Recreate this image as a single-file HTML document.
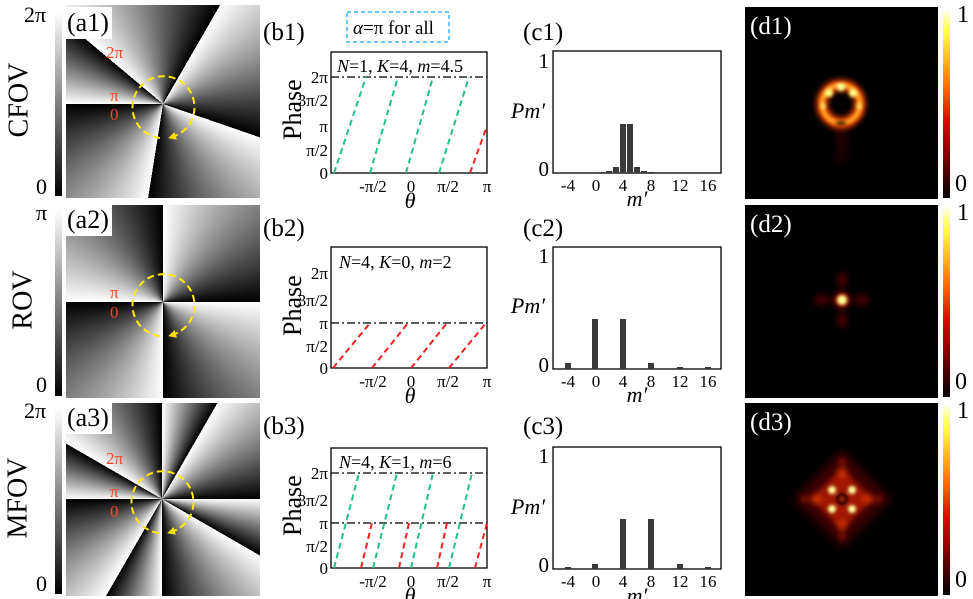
<!DOCTYPE html>
<html><head><meta charset="utf-8"><style>
body{margin:0;background:#fff;width:973px;height:599px;position:relative;overflow:hidden;font-family:"Liberation Serif",serif}
.a{position:absolute;left:66px;width:194px;height:193px}
.cb{position:absolute;left:55px;width:7px;background:linear-gradient(#fff,#000)}
.hb{position:absolute;left:943px;width:7px;background:linear-gradient(#fffff0,#ffff40 12%,#ff9000 35%,#e00000 60%,#500000 85%,#000)}
.lab{position:absolute;background:#fff;font-size:26px;line-height:32px;padding:0 3px}
.t{position:absolute;font-size:22px}
</style></head><body>
<div class="a" style="top:5px;background:conic-gradient(from 270deg at 97px 99px,#fff 0deg,#000 40deg,#fff 40deg,#000 120deg,#fff 120deg,#000 199deg,#fff 199deg,#000 279deg,#fff 279deg,#000 360deg)"></div>
<div class="a" style="top:205px;background:conic-gradient(from 0deg at 97px 97px,#fff 0deg,#000 90deg,#fff 90deg,#000 180deg,#fff 180deg,#000 270deg,#fff 270deg,#000 360deg)"></div>
<div class="a" style="top:403px;background:conic-gradient(from 0deg at 96px 96px,#fff 0deg,#000 30deg,#fff 30deg,#000 90deg,#fff 90deg,#000 120deg,#fff 120deg,#000 180deg,#fff 180deg,#000 210deg,#fff 210deg,#000 270deg,#fff 270deg,#000 300deg,#fff 300deg,#000 360deg)"></div>
<div class="cb" style="top:12px;height:184px"></div>
<div class="cb" style="top:210px;height:186px"></div>
<div class="cb" style="top:408px;height:186px"></div>
<div class="lab" style="left:64px;top:7px">(a1)</div>
<div class="lab" style="left:64px;top:204px">(a2)</div>
<div class="lab" style="left:64px;top:402px">(a3)</div>
<div class="t" style="left:24px;top:2px">2π</div><div class="t" style="left:36px;top:174px">0</div>
<div class="t" style="left:36px;top:200px">π</div><div class="t" style="left:36px;top:372px">0</div>
<div class="t" style="left:24px;top:398px">2π</div><div class="t" style="left:36px;top:571px">0</div>
<div class="t" style="left:-18px;top:84px;font-size:28px;transform:rotate(-90deg)">CFOV</div>
<div class="t" style="left:-6px;top:284px;font-size:28px;transform:rotate(-90deg)">ROV</div>
<div class="t" style="left:-22px;top:482px;font-size:28px;transform:rotate(-90deg)">MFOV</div>

<div style="position:absolute;left:745px;top:7px;width:193px;height:192px;background:#000"></div>
<div style="position:absolute;left:745px;top:205px;width:193px;height:193px;background:#000"></div>
<div style="position:absolute;left:745px;top:403px;width:193px;height:193px;background:#000"></div>
<div class="hb" style="top:10px;height:188px"></div>
<div class="hb" style="top:207px;height:190px"></div>
<div class="hb" style="top:405px;height:190px"></div>
<div class="t" style="left:957px;top:2px;font-size:24px">1</div><div class="t" style="left:955px;top:171px;font-size:24px">0</div>
<div class="t" style="left:957px;top:200px;font-size:24px">1</div><div class="t" style="left:955px;top:369px;font-size:24px">0</div>
<div class="t" style="left:957px;top:398px;font-size:24px">1</div><div class="t" style="left:955px;top:567px;font-size:24px">0</div>

<svg width="973" height="599" style="position:absolute;left:0;top:0" font-family="Liberation Serif, serif">
<defs>
<filter id="bl" x="-50%" y="-50%" width="200%" height="200%"><feGaussianBlur stdDeviation="3"/></filter>
<filter id="bb" x="-50%" y="-50%" width="200%" height="200%"><feGaussianBlur stdDeviation="5"/></filter>
<filter id="bs" x="-50%" y="-50%" width="200%" height="200%"><feGaussianBlur stdDeviation="1.5"/></filter>
<marker id="ar" markerUnits="userSpaceOnUse" markerWidth="9" markerHeight="9" refX="4" refY="4" orient="auto"><path d="M0,0L8,4L0,8z" fill="#ffe000"/></marker>
</defs>
<g fill="#f04828" font-size="17">
<text x="106" y="58">2π</text><text x="110" y="101">π</text><text x="110" y="120">0</text>
<text x="110" y="298">π</text><text x="110" y="318">0</text>
<text x="106" y="464">2π</text><text x="110" y="497">π</text><text x="110" y="517">0</text></g>
<g fill="none" stroke="#ffea00" stroke-width="2" stroke-dasharray="7,4">
<path d="M160,138 A31,31 0 1 1 172,137" marker-end="url(#ar)"/>
<path d="M160,336 A31,31 0 1 1 172,335" marker-end="url(#ar)"/>
<path d="M159,533 A31,31 0 1 1 171,532" marker-end="url(#ar)"/></g>

<g font-size="25"><text x="263" y="40">(b1)</text><text x="263" y="236">(b2)</text><text x="263" y="434">(b3)</text>
<text x="523" y="40">(c1)</text><text x="523" y="236">(c2)</text><text x="523" y="434">(c3)</text></g>
<rect x="347" y="12" width="102" height="30" fill="none" stroke="#3cb4f0" stroke-width="1.5" stroke-dasharray="4,3"/>
<text x="353" y="34" font-size="19"><tspan font-style="italic">α</tspan>=π for all</text>

<g stroke="#000" fill="none" stroke-width="1.3">
<rect x="331" y="52" width="156" height="121"/><rect x="331" y="247" width="156" height="121"/><rect x="331" y="448" width="156" height="120"/>
<rect x="553" y="51" width="168" height="122"/><rect x="553" y="247" width="168" height="122"/><rect x="553" y="447" width="168" height="122"/></g>
<g stroke="#000" stroke-width="1.2" stroke-dasharray="8,3,2,3">
<line x1="331" y1="77" x2="487" y2="77"/><line x1="331" y1="323" x2="487" y2="323"/>
<line x1="331" y1="473" x2="487" y2="473"/><line x1="331" y1="523" x2="487" y2="523"/></g>
<g stroke="#20c088" stroke-width="2" stroke-dasharray="6,4">
<line x1="334" y1="173" x2="366" y2="77"/><line x1="370" y1="173" x2="398" y2="77"/><line x1="406" y1="173" x2="433" y2="77"/><line x1="439" y1="173" x2="469" y2="77"/>
<line x1="334" y1="568" x2="359" y2="473"/><line x1="373" y1="568" x2="397" y2="473"/><line x1="411" y1="568" x2="433" y2="473"/><line x1="449" y1="568" x2="472" y2="473"/></g>
<g stroke="#f02020" stroke-width="2" stroke-dasharray="6,4">
<line x1="470" y1="173" x2="487" y2="126"/>
<line x1="333" y1="368" x2="370" y2="323"/><line x1="372" y1="368" x2="408" y2="323"/><line x1="411" y1="368" x2="447" y2="323"/><line x1="449" y1="368" x2="486" y2="323"/>
<line x1="361" y1="568" x2="372" y2="523"/><line x1="399" y1="568" x2="409" y2="523"/><line x1="437" y1="568" x2="447" y2="523"/><line x1="475" y1="568" x2="487" y2="523"/></g>
<g font-size="18"><text x="337" y="72"><tspan font-style="italic">N</tspan>=1, <tspan font-style="italic">K</tspan>=4, <tspan font-style="italic">m</tspan>=4.5</text>
<text x="339" y="268"><tspan font-style="italic">N</tspan>=4, <tspan font-style="italic">K</tspan>=0, <tspan font-style="italic">m</tspan>=2</text>
<text x="339" y="468"><tspan font-style="italic">N</tspan>=4, <tspan font-style="italic">K</tspan>=1, <tspan font-style="italic">m</tspan>=6</text></g>
<g font-size="17" text-anchor="end">
<text x="328" y="83">2π</text><text x="328" y="106">3π/2</text><text x="328" y="132">π</text><text x="328" y="156">π/2</text><text x="328" y="179">0</text>
<text x="328" y="279">2π</text><text x="328" y="306">3π/2</text><text x="328" y="329">π</text><text x="328" y="352">π/2</text><text x="328" y="374">0</text>
<text x="328" y="479">2π</text><text x="328" y="506">3π/2</text><text x="328" y="529">π</text><text x="328" y="552">π/2</text><text x="328" y="574">0</text></g>
<g font-size="17" text-anchor="middle">
<text x="373" y="192">-π/2</text><text x="411" y="192">0</text><text x="448" y="192">π/2</text><text x="487" y="192">π</text>
<text x="373" y="387">-π/2</text><text x="411" y="387">0</text><text x="448" y="387">π/2</text><text x="487" y="387">π</text>
<text x="373" y="587">-π/2</text><text x="411" y="587">0</text><text x="448" y="587">π/2</text><text x="487" y="587">π</text></g>
<g font-size="22" font-style="italic" text-anchor="middle"><text x="410" y="208">θ</text><text x="410" y="403">θ</text><text x="410" y="603">θ</text>
<text x="637" y="206">m′</text><text x="637" y="402">m′</text><text x="637" y="603">m′</text>
<text x="528" y="118">Pm′</text><text x="528" y="313">Pm′</text><text x="528" y="514">Pm′</text></g>
<g font-size="26"><text transform="translate(301,140) rotate(-90)">Phase</text><text transform="translate(301,336) rotate(-90)">Phase</text><text transform="translate(301,536) rotate(-90)">Phase</text></g>
<g font-size="21" text-anchor="end"><text x="549" y="68">1</text><text x="549" y="176">0</text><text x="549" y="263">1</text><text x="549" y="372">0</text><text x="549" y="463">1</text><text x="549" y="572">0</text></g>
<g font-size="17" text-anchor="middle">
<text x="568" y="191">-4</text><text x="596" y="191">0</text><text x="623" y="191">4</text><text x="651" y="191">8</text><text x="680" y="191">12</text><text x="708" y="191">16</text>
<text x="568" y="387">-4</text><text x="596" y="387">0</text><text x="623" y="387">4</text><text x="651" y="387">8</text><text x="680" y="387">12</text><text x="708" y="387">16</text>
<text x="568" y="587">-4</text><text x="596" y="587">0</text><text x="623" y="587">4</text><text x="651" y="587">8</text><text x="680" y="587">12</text><text x="708" y="587">16</text></g>
<g fill="#3a3a3a">
<rect x="620" y="124" width="6" height="49"/><rect x="627" y="124" width="6" height="49"/><rect x="613" y="167" width="6" height="6"/><rect x="634" y="167" width="6" height="6"/><rect x="606" y="171" width="6" height="2"/><rect x="641" y="171" width="6" height="2"/><rect x="599" y="172" width="6" height="1"/><rect x="648" y="172" width="6" height="1"/>
<rect x="565" y="363" width="6" height="6"/><rect x="592" y="319" width="6" height="50"/><rect x="620" y="319" width="6" height="50"/><rect x="648" y="363" width="6" height="6"/><rect x="677" y="367" width="6" height="2"/><rect x="705" y="367" width="6" height="2"/>
<rect x="565" y="567" width="6" height="2"/><rect x="592" y="564" width="6" height="5"/><rect x="620" y="519" width="6" height="50"/><rect x="648" y="519" width="6" height="50"/><rect x="677" y="564" width="6" height="5"/><rect x="705" y="567" width="6" height="2"/></g>

<g filter="url(#bb)"><path d="M837,122 L846,122 L844,165 L840,165z" fill="#3a0000"/></g>
<g filter="url(#bl)"><circle cx="841" cy="104" r="19" fill="none" stroke="#e84000" stroke-width="11"/></g>
<g filter="url(#bs)"><circle cx="841" cy="104" r="19" fill="none" stroke="#ffa020" stroke-width="5"/>
<circle cx="829" cy="93" r="4" fill="#ffff80"/><circle cx="841" cy="87" r="4" fill="#ffff90"/><circle cx="853" cy="93" r="4" fill="#ffff80"/><circle cx="823" cy="106" r="3" fill="#ffe060"/><circle cx="859" cy="106" r="3" fill="#ffe060"/>
<ellipse cx="841" cy="123" rx="6" ry="2" fill="#000"/></g>
<g filter="url(#bl)"><circle cx="842" cy="300" r="8" fill="#a01000"/>
<ellipse cx="842" cy="280" rx="6" ry="8" fill="#3a0000"/><ellipse cx="842" cy="320" rx="6" ry="8" fill="#3a0000"/><ellipse cx="822" cy="300" rx="8" ry="6" fill="#3a0000"/><ellipse cx="862" cy="300" rx="8" ry="6" fill="#3a0000"/></g>
<circle cx="842" cy="300" r="5" fill="#ffff90" filter="url(#bs)"/>
<g filter="url(#bb)"><path d="M842,450 L891,499 L842,548 L793,499z" fill="#3a0000"/></g>
<g filter="url(#bl)"><path d="M842,468 L873,499 L842,530 L811,499z" fill="#a01800"/>
<circle cx="842" cy="473" r="5" fill="#d03000"/><circle cx="842" cy="525" r="5" fill="#d03000"/><circle cx="816" cy="499" r="5" fill="#d03000"/><circle cx="868" cy="499" r="5" fill="#d03000"/>
<circle cx="842" cy="462" r="4" fill="#801000"/><circle cx="842" cy="536" r="4" fill="#801000"/><circle cx="805" cy="499" r="4" fill="#801000"/><circle cx="879" cy="499" r="4" fill="#801000"/></g>
<g filter="url(#bs)"><circle cx="842" cy="499" r="6" fill="#200000"/><circle cx="842" cy="499" r="2" fill="#c03000"/>
<circle cx="832" cy="490" r="4" fill="#ffffa0"/><circle cx="852" cy="490" r="4" fill="#ffffa0"/><circle cx="832" cy="509" r="4" fill="#ffffa0"/><circle cx="852" cy="509" r="4" fill="#ffffa0"/></g>
<g fill="#fff" font-size="25"><text x="750" y="34">(d1)</text><text x="750" y="232">(d2)</text><text x="750" y="430">(d3)</text></g>
</svg>
</body></html>
